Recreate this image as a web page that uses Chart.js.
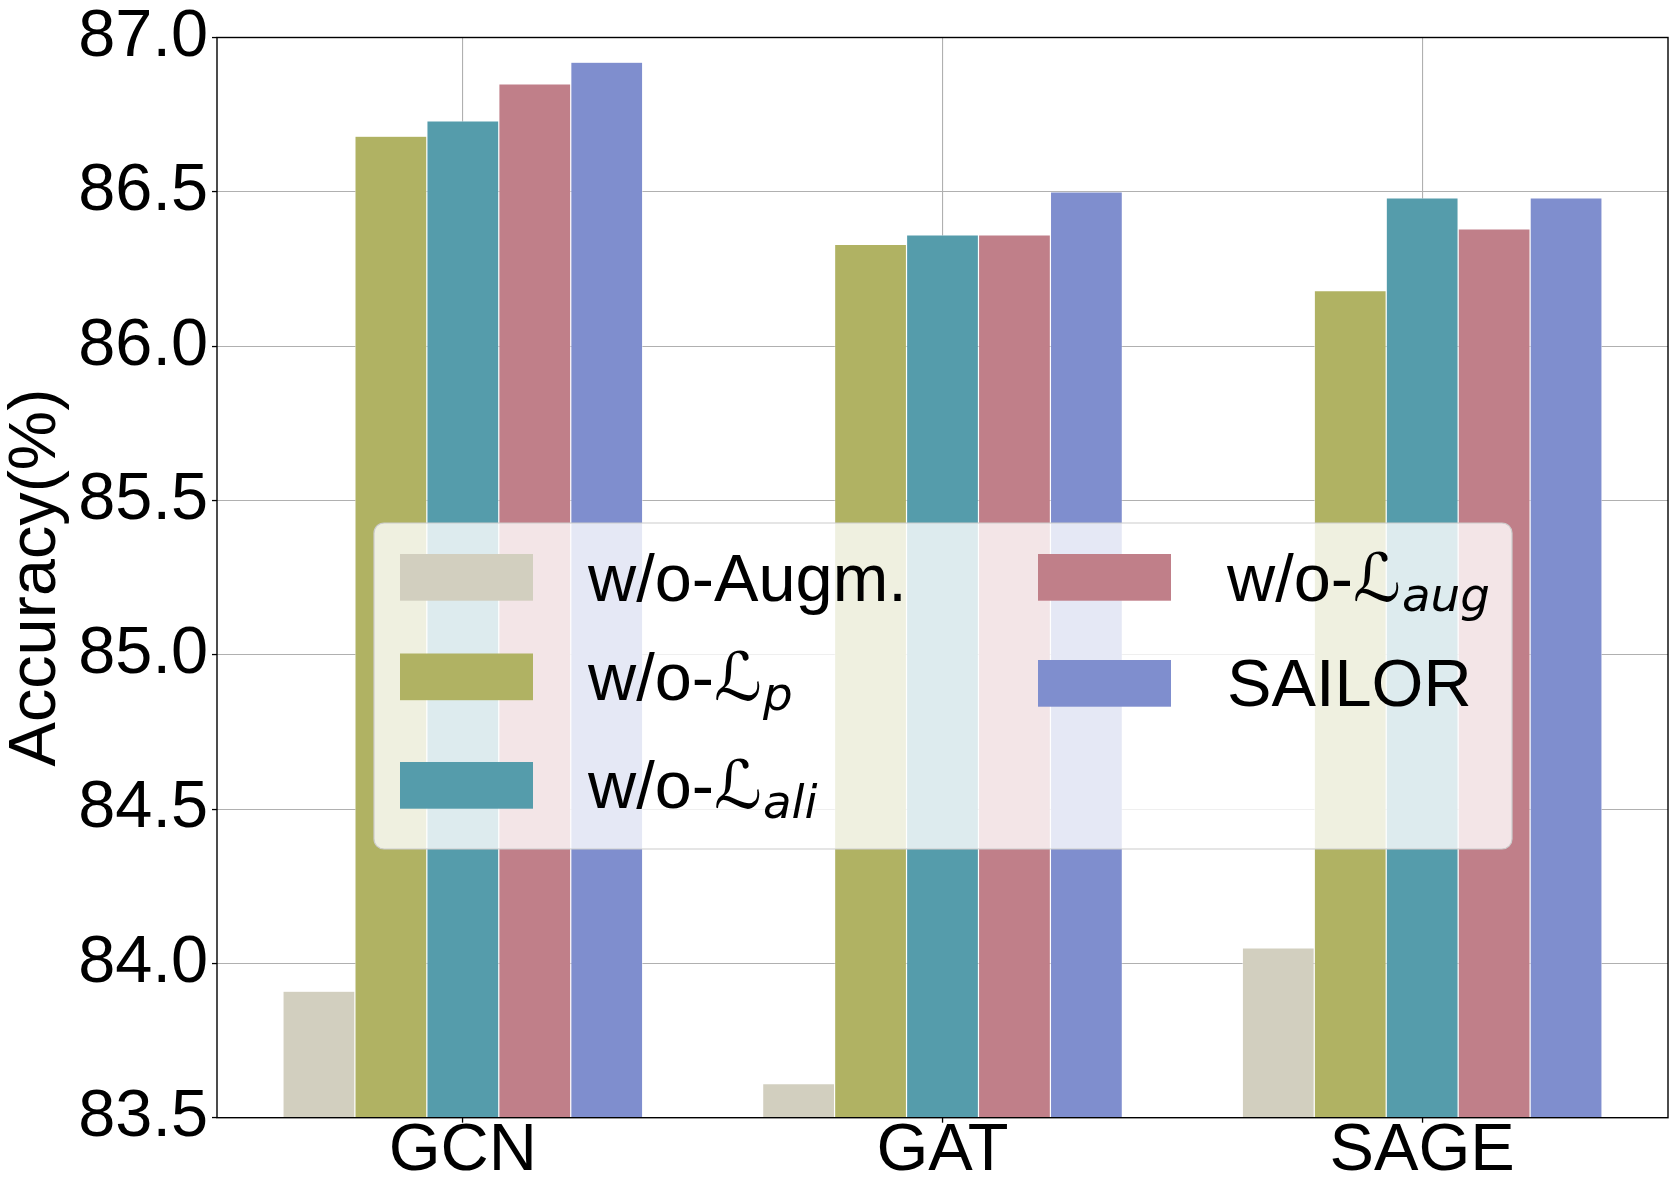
<!DOCTYPE html>
<html><head><meta charset="utf-8">
<script src="https://cdn.jsdelivr.net/npm/chart.js@4.4.1/dist/chart.umd.min.js"></script>
<style>html,body{margin:0;padding:0;background:#fff}canvas{display:block}</style>
</head><body>
<canvas id="c" width="1680" height="1200" style="width:1680px;height:1200px"></canvas>
<script>
// ---- data ----
const categories = ['GCN', 'GAT', 'SAGE'];
const seriesNames = ['w/o-Augm.', 'w/o-ℒp', 'w/o-ℒali', 'w/o-ℒaug', 'SAILOR'];
const woAugm  = [83.91, 83.61, 84.05];
const woLp    = [86.68, 86.33, 86.18];
const woLali  = [86.73, 86.36, 86.48];
const woLaug  = [86.85, 86.36, 86.38];
const sailor  = [86.92, 86.50, 86.48];
const yTicks  = [83.5, 84.0, 84.5, 85.0, 85.5, 86.0, 86.5, 87.0];
// legend label parts: [main text, calligraphic symbol, italic subscript]
const labelMain = ['w/o-Augm.', 'w/o-', 'w/o-', 'w/o-', 'SAILOR'];
const labelSym  = ['', 'ℒ', 'ℒ', 'ℒ', ''];
const labelSub  = ['', 'p', 'ali', 'aug', ''];

// ---- styles ----
const colors = ['#d2cfbf', '#b0b263', '#559cab', '#c07f89', '#7f8ece'];
const FS = 66.7;
const SANS = '"Liberation Sans", Arial, sans-serif';
Chart.defaults.font.family = SANS;
Chart.defaults.color = '#000';

const series = [woAugm, woLp, woLali, woLaug, sailor];

const legendBox = {x: 374, y: 523, w: 1138, h: 326, r: 10};
const legendSlots = [
  {hx: 400, hy: 554, tx: 588, base: 600.7},
  {hx: 400, hy: 653.5, tx: 588, base: 700},
  {hx: 400, hy: 762, tx: 588, base: 808},
  {hx: 1038, hy: 554, tx: 1227, base: 600.5},
  {hx: 1038, hy: 660, tx: 1227, base: 706}
];
const handleW = 133, handleH = 46.7;

const framePlugin = {
  id: 'frameAndLegend',
  afterDraw(chart) {
    const {ctx, chartArea: a} = chart;
    ctx.save();
    ctx.strokeStyle = '#000';
    ctx.lineWidth = 1.4;
    ctx.strokeRect(a.left, a.top, a.right - a.left, a.bottom - a.top);

    // legend box
    ctx.beginPath();
    ctx.roundRect(legendBox.x, legendBox.y, legendBox.w, legendBox.h, legendBox.r);
    ctx.fillStyle = 'rgba(255,255,255,0.8)';
    ctx.fill();
    ctx.strokeStyle = '#cccccc';
    ctx.lineWidth = 1.2;
    ctx.stroke();

    ctx.textBaseline = 'alphabetic';
    ctx.textAlign = 'left';
    for (let k = 0; k < series.length; k++) {
      const s = legendSlots[k];
      ctx.fillStyle = colors[k];
      ctx.fillRect(s.hx, s.hy, handleW, handleH);
      ctx.fillStyle = '#000';
      let x = s.tx;
      ctx.font = FS + 'px ' + SANS;
      ctx.fillText(labelMain[k], x, s.base);
      x += ctx.measureText(labelMain[k]).width;
      if (labelSym[k]) {
        ctx.font = 'italic ' + FS + 'px "DejaVu Serif", "DejaVu Sans", serif';
        ctx.fillText(labelSym[k], x, s.base);
        x += ctx.measureText(labelSym[k]).width;
      }
      if (labelSub[k]) {
        ctx.font = 'italic ' + (FS * 0.7) + 'px "DejaVu Sans", sans-serif';
        ctx.fillText(labelSub[k], x + 1, s.base + 10);
      }
    }
    ctx.restore();
  }
};

new Chart(document.getElementById('c'), {
  type: 'bar',
  data: {
    datasets: series.map((vals, k) => ({
      label: seriesNames[k],
      data: vals.map((v, i) => ({x: i, y: v})),
      backgroundColor: colors[k],
      borderColor: '#ffffff',
      borderWidth: 0.6,
      borderSkipped: 'start',
      categoryPercentage: 0.75,
      barPercentage: 1.0
    }))
  },
  options: {
    responsive: false,
    animation: false,
    devicePixelRatio: 1,
    layout: {padding: {top: 37.5, right: 12, left: 0, bottom: 0}},
    plugins: {legend: {display: false}, tooltip: {enabled: false}},
    scales: {
      x: {
        type: 'linear',
        offset: false,
        min: -0.5125,
        max: 2.5125,
        z: 1,
        afterBuildTicks: s => { s.ticks = categories.map((_, i) => ({value: i})); },
        afterFit: s => { s.height = 82.3; },
        ticks: {
          callback: v => categories[Math.round(v)],
          font: {size: FS, lineHeight: 0.8},
          padding: 2,
          color: '#000',
          maxRotation: 0,
          autoSkip: false
        },
        grid: {offset: false, color: '#b0b0b0', lineWidth: 1.1, tickLength: 5, tickColor: '#000', tickWidth: 1.3},
        border: {display: false}
      },
      y: {
        min: 83.5,
        max: 87.0,
        z: 1,
        afterBuildTicks: s => { s.ticks = yTicks.map(v => ({value: v})); },
        afterFit: s => { s.width = 217; },
        ticks: {
          callback: v => Number(v).toFixed(1),
          font: {size: FS, lineHeight: 1.0},
          padding: 4,
          color: '#000'
        },
        grid: {color: '#b0b0b0', lineWidth: 1.1, tickLength: 5, tickColor: '#000', tickWidth: 1.3},
        border: {display: false},
        title: {
          display: true,
          text: 'Accuracy(%)',
          font: {size: FS, lineHeight: 1.1},
          padding: 0,
          color: '#000'
        }
      }
    }
  },
  plugins: [framePlugin]
});
</script>
</body></html>
